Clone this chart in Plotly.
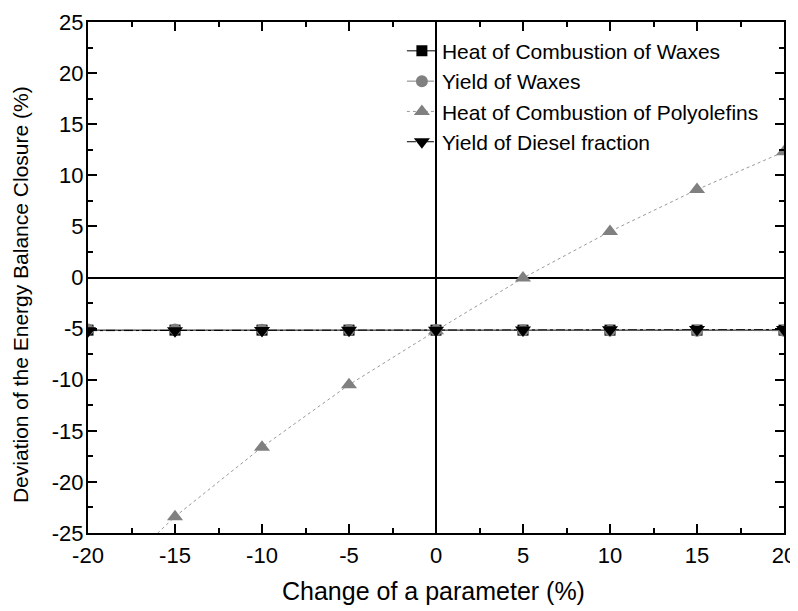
import plotly.graph_objects as go

x_vals = [-20, -15, -10, -5, 0, 5, 10, 15, 20]
heat_waxes = [-5.15, -5.15, -5.15, -5.15, -5.15, -5.15, -5.15, -5.15, -5.15]
yield_waxes = [-5.1, -5.1, -5.12, -5.13, -5.15, -5.17, -5.18, -5.2, -5.2]
heat_polyolefins = [-31.5, -23.4, -16.6, -10.5, -5.2, -0.05, 4.5, 8.6, 12.3]
yield_diesel = [-5.2, -5.2, -5.18, -5.17, -5.15, -5.13, -5.12, -5.1, -5.1]

x_ticks = [-20, -15, -10, -5, 0, 5, 10, 15, 20]
x_ticklabels = ["-20", "-15", "-10", "-5", "0", "5", "10", "15", "20"]
y_ticks = [-25, -20, -15, -10, -5, 0, 5, 10, 15, 20, 25]
y_ticklabels = ["-25", "-20", "-15", "-10", "-5", "0", "5", "10", "15", "20", "25"]

names = ["Heat of Combustion of Waxes", "Yield of Waxes",
         "Heat of Combustion of Polyolefins", "Yield of Diesel fraction"]
x_title = "Change of a parameter (%)"
y_title = "Deviation of the Energy Balance Closure (%)"

FONT = "Liberation Sans, Arial, sans-serif"

fig = go.Figure()
fig.add_trace(go.Scatter(x=x_vals, y=heat_waxes, name=names[0], mode="lines+markers",
                         line=dict(color="black", width=1, dash="solid"),
                         marker=dict(symbol="square", size=11, color="black")))
fig.add_trace(go.Scatter(x=x_vals, y=yield_waxes, name=names[1], mode="lines+markers",
                         line=dict(color="#808080", width=1, dash="dash"),
                         marker=dict(symbol="circle", size=12, color="#808080")))
fig.add_trace(go.Scatter(x=x_vals, y=heat_polyolefins, name=names[2], mode="lines+markers",
                         line=dict(color="#999999", width=1, dash="dot"),
                         marker=dict(symbol="triangle-up", size=14, color="#808080")))
fig.add_trace(go.Scatter(x=x_vals, y=yield_diesel, name=names[3], mode="lines+markers",
                         line=dict(color="black", width=1, dash="dashdot"),
                         marker=dict(symbol="triangle-down", size=14, color="black")))

axis_common = dict(
    showline=True, linecolor="black", linewidth=2, mirror="ticks",
    ticks="inside", ticklen=9, tickwidth=2, tickcolor="black",
    showgrid=False, zeroline=True, zerolinecolor="black", zerolinewidth=2,
    tickfont=dict(family=FONT, size=22, color="black"),
    automargin=False, tickmode="array",
)

fig.update_xaxes(range=[-20, 20], tickvals=x_ticks, ticktext=x_ticklabels,
                 ticklabelstandoff=2,
                 minor=dict(ticks="inside", ticklen=5, tickwidth=2, tickcolor="black", dtick=2.5, tick0=-20),
                 **axis_common)
fig.update_yaxes(range=[-25, 25], tickvals=y_ticks, ticktext=y_ticklabels,
                 ticklabelstandoff=-2,
                 minor=dict(ticks="inside", ticklen=5, tickwidth=2, tickcolor="black", dtick=2.5, tick0=-25),
                 **axis_common)

fig.add_annotation(text=y_title, xref="paper", yref="paper",
                   x=-0.096, y=0.466, xanchor="center", yanchor="middle",
                   textangle=-90, showarrow=False,
                   font=dict(family=FONT, size=21, color="black"))
fig.add_annotation(text=x_title, xref="paper", yref="paper",
                   x=0.497, y=-0.1135, xanchor="center", yanchor="middle",
                   showarrow=False,
                   font=dict(family=FONT, size=25, color="black"))

fig.update_layout(
    width=790, height=603,
    margin=dict(l=80, r=14, t=14, b=78),
    plot_bgcolor="white", paper_bgcolor="white",
    font=dict(family=FONT, size=22, color="black"),
    legend=dict(x=0.451, y=0.983, xanchor="left", yanchor="top",
                bgcolor="rgba(0,0,0,0)", borderwidth=0,
                font=dict(family=FONT, size=21, color="black"),
                tracegroupgap=0, itemwidth=30),
    showlegend=True,
)

fig.write_html("out.html")
